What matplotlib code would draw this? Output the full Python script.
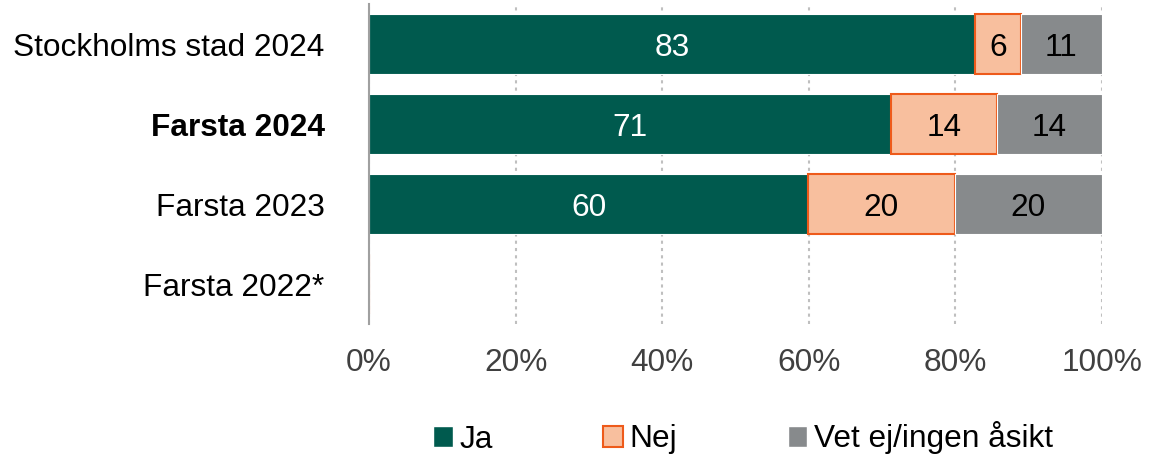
import matplotlib
matplotlib.use("Agg")
import matplotlib.pyplot as plt
from matplotlib.patches import Patch

categories = ["Stockholms stad 2024", "Farsta 2024", "Farsta 2023", "Farsta 2022*"]
ja = [82.7, 71.2, 59.9, 0]
nej = [6.2, 14.5, 20.0, 0]
vet = [11.1, 14.3, 20.1, 0]
ja_lbl = ["83", "71", "60", ""]
nej_lbl = ["6", "14", "20", ""]
vet_lbl = ["11", "14", "20", ""]
series_names = ["Ja", "Nej", "Vet ej/ingen åsikt"]
xticks = [0, 20, 40, 60, 80, 100]
xtick_labels = ["0%", "20%", "40%", "60%", "80%", "100%"]

plt.rcParams['font.family'] = ['Liberation Sans', 'DejaVu Sans']

c_ja = "#005A4E"
c_nej = "#F8BF9E"
c_nej_edge = "#EE5A1A"
c_vet = "#878A8C"

fig = plt.figure(figsize=(11.58, 4.57), dpi=100)
ax = fig.add_axes([369/1158, 133/457, 733/1158, 320/457])

y = list(range(len(categories)))
h = 0.76
ax.barh(y, ja, height=h, color=c_ja, edgecolor="white", linewidth=0.8, zorder=3)
left2 = [a for a in ja]
ax.barh(y, nej, left=left2, height=h, color=c_nej, edgecolor=c_nej_edge, linewidth=1.5, zorder=3)
left3 = [a + b for a, b in zip(ja, nej)]
ax.barh(y, vet, left=left3, height=h, color=c_vet, edgecolor="white", linewidth=0.8, zorder=3)

fs = 22.8
for i in y:
    if ja_lbl[i]:
        ax.text(ja[i] / 2, i, ja_lbl[i], ha="center", va="center_baseline", color="white", fontsize=fs, zorder=4)
    if nej_lbl[i]:
        ax.text(left2[i] + nej[i] / 2, i, nej_lbl[i], ha="center", va="center_baseline", color="black", fontsize=fs, zorder=4)
    if vet_lbl[i]:
        ax.text(left3[i] + vet[i] / 2, i, vet_lbl[i], ha="center", va="center_baseline", color="black", fontsize=fs, zorder=4)

ax.set_xlim(0, 100)
ax.set_ylim(len(categories) - 0.5, -0.5)
ax.set_yticks(y)
ax.set_yticklabels(categories, fontsize=fs, color="black")
for lbl in ax.get_yticklabels():
    if lbl.get_text() == "Farsta 2024":
        lbl.set_fontweight("bold")
ax.set_xticks(xticks)
ax.set_xticklabels(xtick_labels, fontsize=fs, color="#404040")
ax.tick_params(axis="both", length=0)
ax.tick_params(axis="x", pad=17)
ax.tick_params(axis="y", pad=32)

for s in ["top", "right", "bottom"]:
    ax.spines[s].set_visible(False)
ax.spines["left"].set_color("#A0A0A0")
ax.spines["left"].set_linewidth(1.5)
ax.spines["left"].set_zorder(5)

ax.grid(axis="x", linestyle=(0, (1.5, 2)), color="#BFBFBF", linewidth=1.5, zorder=0)
ax.set_axisbelow(True)

handles = [
    Patch(facecolor=c_ja, edgecolor="white", label=series_names[0]),
    Patch(facecolor=c_nej, edgecolor=c_nej_edge, linewidth=1.5, label=series_names[1]),
    Patch(facecolor=c_vet, edgecolor="white", label=series_names[2]),
]
fig.legend(handles=handles, loc="center", bbox_to_anchor=(743/1158, 1 - 438/457), ncol=3,
           frameon=False, fontsize=fs, handlelength=0.62, handleheight=0.68,
           handletextpad=0.2, columnspacing=3.5)

fig.savefig("out.png", dpi=100)
